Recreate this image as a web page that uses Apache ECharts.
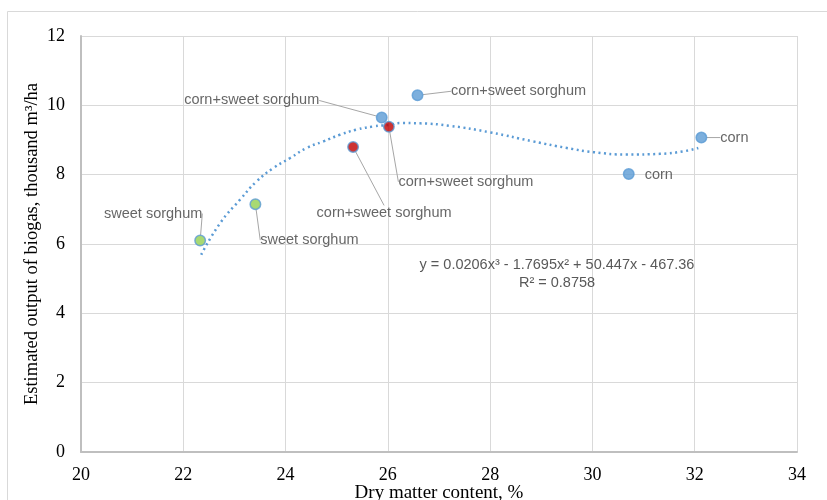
<!DOCTYPE html>
<html>
<head>
<meta charset="utf-8">
<script src="https://cdn.jsdelivr.net/npm/echarts@6/dist/echarts.min.js"></script>
<style>html,body{margin:0;padding:0;background:#fff}#c{width:827px;height:500px}</style>
</head>
<body>
<div id="c"></div>
<script>
// ---- data ----
var pointX = [22.33, 23.41, 25.88, 25.32, 26.02, 26.58, 30.71, 32.13];
var pointY = [6.10, 7.15, 9.65, 8.80, 9.38, 10.29, 8.02, 9.07];
var pointLabels = ['sweet sorghum', 'sweet sorghum', 'corn+sweet sorghum', 'corn+sweet sorghum',
                   'corn+sweet sorghum', 'corn+sweet sorghum', 'corn', 'corn'];
var pointGroup = ['green', 'green', 'blue', 'red', 'red', 'blue', 'blue', 'blue'];
// trend line
var trendX = [22.35, 22.72, 23.11, 23.43, 23.76, 24.09, 24.41, 24.74, 25.06, 25.39, 25.71, 26.04,
              26.24, 26.63, 27.21, 28.00, 28.84, 29.50, 30.02, 30.67, 31.32, 31.77, 32.07];
var trendY = [5.69, 6.60, 7.28, 7.80, 8.19, 8.48, 8.77, 8.96, 9.15, 9.30, 9.39, 9.44,
              9.49, 9.48, 9.41, 9.22, 8.96, 8.77, 8.65, 8.58, 8.60, 8.67, 8.77];
var xTicks = [20, 22, 24, 26, 28, 30, 32, 34];
var yTicks = [0, 2, 4, 6, 8, 10, 12];
var equationText = 'y = 0.0206x\u00B3 - 1.7695x\u00B2 + 50.447x - 467.36';
var r2Text = 'R\u00B2 = 0.8758';
var xTitle = 'Dry matter content, %';
var yTitle = 'Estimated output of biogas, thousand m\u00B3/ha';

// ---- styles ----
var fills = { blue: '#5b9bd5', green: '#92d050', red: '#c00000' };
var labelOffsets = [[-47, -27], [54, 36], [-130, -17], [31, 66], [77, 55], [101, -4], [30, 1], [33, 0]];
var showLine = [true, true, true, true, true, true, false, true];

var data = pointX.map(function (x, i) {
  return {
    value: [x, pointY[i]],
    name: pointLabels[i],
    itemStyle: { color: fills[pointGroup[i]], borderColor: '#5b9bd5', borderWidth: 1.5 },
    labelLine: { show: showLine[i] }
  };
});
var trend = trendX.map(function (x, i) { return [x, trendY[i]]; });

var chart = echarts.init(document.getElementById('c'), null, { renderer: 'canvas' });
chart.setOption({
  animation: false,
  backgroundColor: '#fff',
  grid: { left: 81, right: 30, top: 36, bottom: 48, containLabel: false, outerBoundsMode: 'none' },
  xAxis: {
    type: 'value', min: xTicks[0], max: xTicks[xTicks.length - 1], interval: 2,
    name: xTitle, nameLocation: 'middle', nameGap: 32, nameMoveOverlap: false,
    nameTextStyle: { fontFamily: 'Liberation Serif', fontSize: 19, color: '#000' },
    axisLine: { lineStyle: { color: '#bfbfbf', width: 2 } },
    axisTick: { show: false },
    axisLabel: { fontFamily: 'Liberation Serif', fontSize: 18, color: '#000', margin: 14 },
    splitLine: { show: true, lineStyle: { color: '#d9d9d9', width: 1 } }
  },
  yAxis: {
    type: 'value', min: yTicks[0], max: yTicks[yTicks.length - 1], interval: 2,
    name: yTitle, nameLocation: 'middle', nameGap: 39, nameMoveOverlap: false,
    nameTextStyle: { fontFamily: 'Liberation Serif', fontSize: 18.5, color: '#000' },
    axisLine: { show: true, lineStyle: { color: '#bfbfbf', width: 2 } },
    axisTick: { show: false },
    axisLabel: { fontFamily: 'Liberation Serif', fontSize: 18, color: '#000', margin: 16 },
    splitLine: { show: true, lineStyle: { color: '#d9d9d9', width: 1 } }
  },
  graphic: [
    { type: 'rect', shape: { x: 7.5, y: 11.5, width: 830, height: 500 }, style: { fill: 'none', stroke: '#d9d9d9', lineWidth: 1 }, silent: true },
    { type: 'text', x: 557, y: 265, style: { text: equationText, fill: '#595959', font: '14.5px "Liberation Sans"', textAlign: 'center', textVerticalAlign: 'middle' }, z: 10 },
    { type: 'text', x: 557, y: 283, style: { text: r2Text, fill: '#595959', font: '14.5px "Liberation Sans"', textAlign: 'center', textVerticalAlign: 'middle' }, z: 10 }
  ],
  series: [
    {
      type: 'line', data: trend, smooth: true, symbol: 'none', z: 2,
      lineStyle: { color: '#5b9bd5', width: 2.5, type: [2, 3.5] }
    },
    {
      type: 'scatter', data: data, symbolSize: 10.5, z: 3,
      label: {
        show: true, position: 'inside', formatter: '{b}',
        fontFamily: 'Liberation Sans', fontSize: 14.5, color: '#404040'
      },
      labelLine: { show: true, lineStyle: { color: '#a6a6a6', width: 1 } },
      labelLayout: function (p) {
        var o = labelOffsets[p.dataIndex];
        return { dx: o[0], dy: o[1] };
      }
    }
  ]
});
</script>
</body>
</html>
